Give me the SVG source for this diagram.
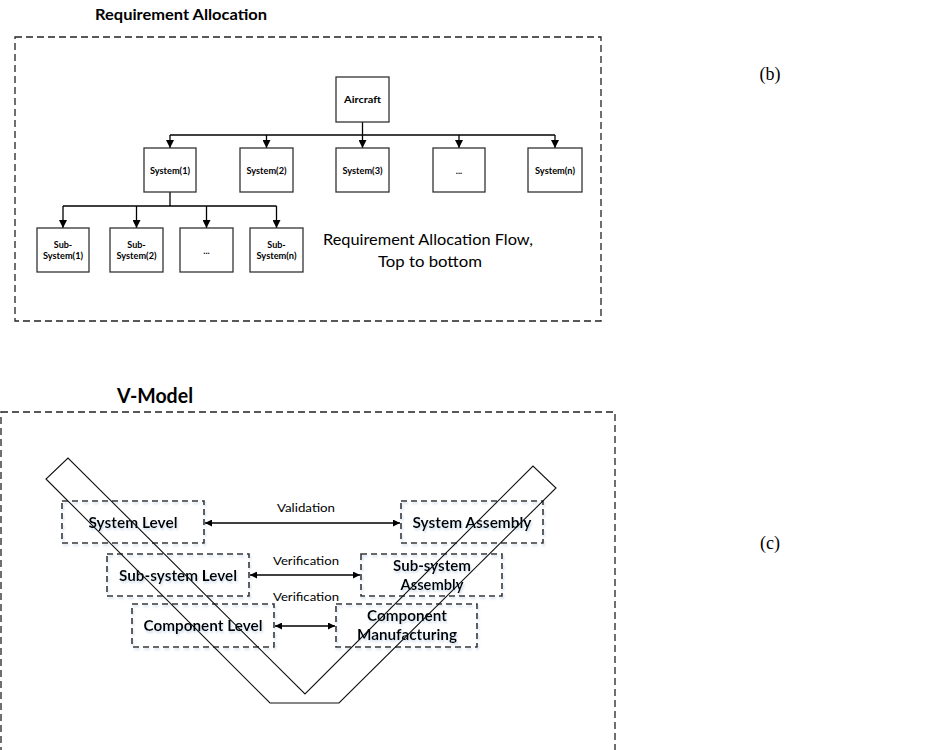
<svg xmlns="http://www.w3.org/2000/svg" width="945" height="750" viewBox="0 0 945 750">
  <defs>
    <style>
      .frame { fill: none; stroke: #222222; stroke-width: 1.3; stroke-dasharray: 7 4; }
      .node { fill: #ffffff; stroke: #333333; stroke-width: 1.3; }
      .level { fill: none; stroke: #333333; stroke-width: 1.6; stroke-dasharray: 6 4; }
      .wire { fill: none; stroke: #000000; stroke-width: 1.3; }
      .title { font-family: Lato, "Liberation Sans", sans-serif; font-weight: bold; fill: #000; text-anchor: middle; }
      .small { font-family: Lato, "Liberation Sans", sans-serif; font-weight: bold; font-size: 9px; fill: #000; text-anchor: middle; }
      .lvl { font-family: Lato, "Liberation Sans", sans-serif; font-weight: bold; font-size: 15px; fill: #000; text-anchor: middle; }
      .note { font-family: Lato, "Liberation Sans", sans-serif; font-size: 12px; fill: #000; text-anchor: middle; }
      .flow { font-family: Lato, "Liberation Sans", sans-serif; font-size: 16px; fill: #000; text-anchor: middle; }
      .tag { font-family: "Liberation Serif", serif; font-size: 18px; fill: #000; text-anchor: middle; }
    </style>
    <marker id="head" markerUnits="userSpaceOnUse" markerWidth="8" markerHeight="8" refX="8" refY="4" orient="auto-start-reverse">
      <path d="M0,0 L8,4 L0,8 z" fill="#000"/>
    </marker>
    <marker id="headS" markerUnits="userSpaceOnUse" markerWidth="7" markerHeight="7" refX="7" refY="3.5" orient="auto-start-reverse">
      <path d="M0,0 L7,3.5 L0,7 z" fill="#000"/>
    </marker>
    <filter id="soft" x="-10%" y="-20%" width="120%" height="140%">
      <feDropShadow dx="1" dy="2" stdDeviation="1.2" flood-color="#a9c3dc" flood-opacity="0.6"/>
    </filter>
  </defs>

  <rect width="945" height="750" fill="#ffffff"/>

  <!-- Panel (b): requirement allocation tree -->
  <text class="title" x="181" y="20" font-size="15" textLength="172" lengthAdjust="spacingAndGlyphs">Requirement Allocation</text>
  <rect class="frame" x="15" y="37" width="586" height="284"/>

  <g id="connectors-tree">
    <path class="wire" d="M362.5,122 V135"/>
    <path class="wire" d="M170,135 H555"/>
    <path class="wire" d="M170,135 V148" marker-end="url(#head)"/>
    <path class="wire" d="M266.5,135 V148" marker-end="url(#head)"/>
    <path class="wire" d="M362.5,135 V148" marker-end="url(#head)"/>
    <path class="wire" d="M459,135 V148" marker-end="url(#head)"/>
    <path class="wire" d="M555,135 V148" marker-end="url(#head)"/>
    <path class="wire" d="M170,192 V206" stroke-width="2.2"/>
    <path class="wire" d="M63,206 H276.5"/>
    <path class="wire" d="M63,206 V228" marker-end="url(#head)"/>
    <path class="wire" d="M136.5,206 V228" marker-end="url(#head)"/>
    <path class="wire" d="M206.5,206 V228" marker-end="url(#head)"/>
    <path class="wire" d="M276.5,206 V228" marker-end="url(#head)"/>
  </g>

  <g id="aircraft">
    <rect class="node" x="336" y="77" width="53" height="45"/>
    <text class="small" x="362.5" y="103" textLength="37" lengthAdjust="spacingAndGlyphs">Aircraft</text>
  </g>
  <g id="system-1">
    <rect class="node" x="144" y="148" width="52" height="44"/>
    <text class="small" x="170" y="174" textLength="40" lengthAdjust="spacingAndGlyphs">System(1)</text>
  </g>
  <g id="system-2">
    <rect class="node" x="240" y="148" width="53" height="44"/>
    <text class="small" x="266.5" y="174" textLength="40" lengthAdjust="spacingAndGlyphs">System(2)</text>
  </g>
  <g id="system-3">
    <rect class="node" x="336" y="148" width="53" height="44"/>
    <text class="small" x="362.5" y="174" textLength="40" lengthAdjust="spacingAndGlyphs">System(3)</text>
  </g>
  <g id="system-more">
    <rect class="node" x="433" y="148" width="52" height="44"/>
    <text class="small" x="459" y="174">...</text>
  </g>
  <g id="system-n">
    <rect class="node" x="528" y="148" width="54" height="44"/>
    <text class="small" x="555" y="174" textLength="40" lengthAdjust="spacingAndGlyphs">System(n)</text>
  </g>

  <g id="subsystem-1">
    <rect class="node" x="37" y="228" width="52" height="44"/>
    <text class="small" x="63" y="248">Sub-</text>
    <text class="small" x="63" y="259" textLength="40" lengthAdjust="spacingAndGlyphs">System(1)</text>
  </g>
  <g id="subsystem-2">
    <rect class="node" x="110" y="228" width="53" height="44"/>
    <text class="small" x="136.5" y="248">Sub-</text>
    <text class="small" x="136.5" y="259" textLength="40" lengthAdjust="spacingAndGlyphs">System(2)</text>
  </g>
  <g id="subsystem-more">
    <rect class="node" x="180" y="228" width="53" height="44"/>
    <text class="small" x="206.5" y="254">...</text>
  </g>
  <g id="subsystem-n">
    <rect class="node" x="250" y="228" width="53" height="44"/>
    <text class="small" x="276.5" y="248">Sub-</text>
    <text class="small" x="276.5" y="259" textLength="40" lengthAdjust="spacingAndGlyphs">System(n)</text>
  </g>

  <g id="flow-note">
    <text class="flow" x="428" y="245" textLength="210" lengthAdjust="spacingAndGlyphs">Requirement Allocation Flow,</text>
    <text class="flow" x="430" y="267" textLength="104" lengthAdjust="spacingAndGlyphs">Top to bottom</text>
  </g>

  <text class="tag" x="770" y="80">(b)</text>

  <!-- Panel (c): V-model -->
  <text class="title" x="155" y="403" font-size="20" textLength="76" lengthAdjust="spacingAndGlyphs">V-Model</text>
  <rect class="frame" x="1" y="412" width="614" height="360"/>

  <g filter="url(#soft)">
    <g id="system-level">
      <rect class="level" x="62" y="501" width="142" height="42"/>
      <text class="lvl" x="133" y="528" textLength="89" lengthAdjust="spacingAndGlyphs">System Level</text>
    </g>
    <g id="system-assembly">
      <rect class="level" x="401" y="501" width="142" height="42"/>
      <text class="lvl" x="472" y="528" textLength="119" lengthAdjust="spacingAndGlyphs">System Assembly</text>
    </g>
    <g id="subsystem-level">
      <rect class="level" x="107" y="554" width="142" height="42"/>
      <text class="lvl" x="178" y="581" textLength="118" lengthAdjust="spacingAndGlyphs">Sub-system Level</text>
    </g>
    <g id="subsystem-assembly">
      <rect class="level" x="361" y="554" width="141" height="42"/>
      <text class="lvl" x="432" y="571" textLength="78" lengthAdjust="spacingAndGlyphs">Sub-system</text>
      <text class="lvl" x="432" y="590" textLength="63" lengthAdjust="spacingAndGlyphs">Assembly</text>
    </g>
    <g id="component-level">
      <rect class="level" x="132" y="604" width="142" height="43"/>
      <text class="lvl" x="203" y="631" textLength="119" lengthAdjust="spacingAndGlyphs">Component Level</text>
    </g>
    <g id="component-manufacturing">
      <rect class="level" x="336" y="604" width="141" height="43"/>
      <text class="lvl" x="407" y="621" textLength="80" lengthAdjust="spacingAndGlyphs">Component</text>
      <text class="lvl" x="407" y="640" textLength="100" lengthAdjust="spacingAndGlyphs">Manufacturing</text>
    </g>
  </g>

  <g id="connectors-v">
    <path class="wire" d="M205,523 H400" marker-start="url(#headS)" marker-end="url(#headS)"/>
    <path class="wire" d="M250,575 H360" marker-start="url(#headS)" marker-end="url(#headS)"/>
    <path class="wire" d="M275,626 H335" marker-start="url(#headS)" marker-end="url(#headS)"/>
    <text class="note" x="306" y="512" textLength="58" lengthAdjust="spacingAndGlyphs">Validation</text>
    <text class="note" x="306" y="565" textLength="66" lengthAdjust="spacingAndGlyphs">Verification</text>
    <text class="note" x="306" y="601" textLength="66" lengthAdjust="spacingAndGlyphs">Verification</text>
  </g>

  <!-- V-shaped band drawn over the level boxes -->
  <polygon id="v-band" points="46,479 270,703 339,703 556,488 533,466 305,694 68,458" fill="none" stroke="#111" stroke-width="1.1" stroke-linejoin="miter"/>

  <text class="tag" x="770" y="549">(c)</text>
</svg>
